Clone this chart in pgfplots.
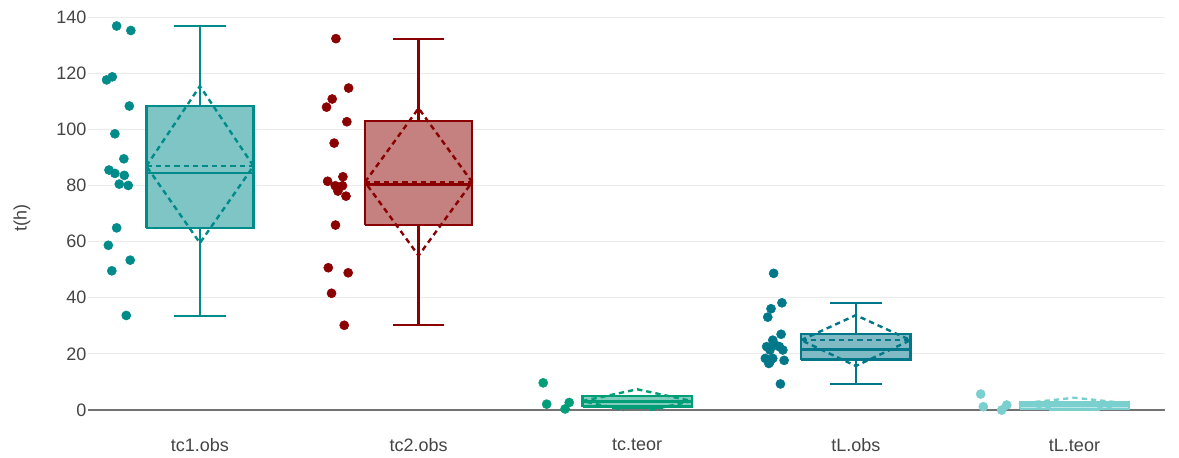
\documentclass[border=0pt]{standalone}
\usepackage{fontspec}
\setmainfont{Liberation Sans}
\usepackage{pgfplots}
\pgfplotsset{compat=1.18}

\definecolor{cA}{RGB}{0,139,139}
\definecolor{cB}{RGB}{139,0,0}
\definecolor{cC}{RGB}{0,158,120}
\definecolor{cD}{RGB}{0,120,138}
\definecolor{cE}{RGB}{122,207,207}
\definecolor{txt}{RGB}{68,68,68}

\pgfplotsset{
  bx/.style={line width=1.9pt, solid, line join=miter, unbounded coords=jump, mark=none},
  dia/.style={line width=1.8pt, dash pattern=on 4pt off 3pt, line join=round, mark=none},
  pts/.style={only marks, mark=*, mark size=3.4pt},
}

\begin{document}
\begin{tikzpicture}
\path[use as bounding box] (-66pt,-35.25pt) rectangle (818.25pt,307.55pt);
\begin{axis}[
  at={(0,0)}, anchor=south west,
  scale only axis, width=807.75pt, height=303.2pt,
  xmin=-0.512, xmax=4.414, ymin=0, ymax=144,
  clip=false,
  axis line style={draw=none},
  major tick length=0pt,
  xtick={0,1,2,3,4},
  xticklabels={tc1.obs,tc2.obs,tc.teor,tL.obs,tL.teor},
  ytick={0,20,40,60,80,100,120,140},
  ymajorgrids,
  grid style={draw=black!8, line width=0.75pt},
  /pgf/number format/assume math mode=true,
  font=\fontsize{13.5}{16}\selectfont,
  tick label style={text=txt},
  xticklabel style={yshift=-18pt},
  yticklabel style={xshift=2.25pt},
  ylabel={t(h)},
  ylabel style={at={(axis description cs:-0.0613,0.475)}, anchor=center, text=txt},
]
% zero line
\addplot[color=black!55, line width=1.1pt] coordinates {(-0.512,0) (4.414,0)};

% tc1.obs
\addplot[cA, bx, fill=cA!50] coordinates {(-0.245,64.8) (0.245,64.8) (0.245,108.3) (-0.245,108.3) (-0.245,64.8)};
\addplot[cA, bx] coordinates {(0,33.5) (0,64.8) (nan,nan) (0,108.3) (0,136.8) (nan,nan)
  (-0.1175,33.5) (0.1175,33.5) (nan,nan) (-0.1175,136.8) (0.1175,136.8) (nan,nan)
  (-0.245,84.4) (0.245,84.4)};
\addplot[cA, dia] coordinates {(-0.245,86.9) (0,115.4) (0.245,86.9) (0,59.5) (-0.245,86.9)};
\addplot[cA, dia] coordinates {(-0.245,86.9) (0.245,86.9)};
\addplot[cA, pts] coordinates {
  (-0.381,136.8) (-0.316,135.2) (-0.401,118.7) (-0.427,117.6) (-0.323,108.3)
  (-0.389,98.4) (-0.348,89.5) (-0.416,85.5) (-0.389,84.3) (-0.346,83.6)
  (-0.369,80.5) (-0.328,80.0) (-0.381,64.9) (-0.419,58.7) (-0.319,53.4)
  (-0.403,49.6) (-0.337,33.7)};

% tc2.obs
\addplot[cB, bx, fill=cB!50] coordinates {(0.755,65.9) (1.245,65.9) (1.245,103.0) (0.755,103.0) (0.755,65.9)};
\addplot[cB, bx] coordinates {(1,30.3) (1,65.9) (nan,nan) (1,103.0) (1,132.2) (nan,nan)
  (0.8825,30.3) (1.1175,30.3) (nan,nan) (0.8825,132.2) (1.1175,132.2) (nan,nan)
  (0.755,80.4) (1.245,80.4)};
\addplot[cB, dia] coordinates {(0.755,81.2) (1,107.5) (1.245,81.2) (1,55.0) (0.755,81.2)};
\addplot[cB, dia] coordinates {(0.755,81.2) (1.245,81.2)};
\addplot[cB, pts] coordinates {
  (0.622,132.3) (0.680,114.7) (0.605,110.8) (0.579,107.9) (0.672,102.7)
  (0.614,95.1) (0.584,81.5) (0.654,83.1) (0.619,79.9) (0.652,79.9)
  (0.631,78.0) (0.668,76.2) (0.620,65.9) (0.587,50.7) (0.678,48.9)
  (0.602,41.6) (0.660,30.2)};

% tc.teor
\addplot[cC, bx, fill=cC!50] coordinates {(1.75,1.2) (2.25,1.2) (2.25,5.0) (1.75,5.0) (1.75,1.2)};
\addplot[cC, bx] coordinates {(2,0.7) (2,1.2) (nan,nan)
  (1.8825,0.7) (2.1175,0.7) (nan,nan) (1.8825,5.0) (2.1175,5.0) (nan,nan)
  (1.75,3.0) (2.25,3.0)};
\addplot[cC, dia] coordinates {(2.0595,0) (2.25,3.2) (2,7.4) (1.75,3.2) (1.9405,0)};
\addplot[cC, dia] coordinates {(1.75,3.2) (2.25,3.2)};
\addplot[cC, pts] coordinates {(1.570,9.7) (1.586,2.1) (1.689,2.7) (1.670,0.4)};

% tL.obs
\addplot[cD, bx, fill=cD!50] coordinates {(2.75,18.0) (3.25,18.0) (3.25,27.1) (2.75,27.1) (2.75,18.0)};
\addplot[cD, bx] coordinates {(3,9.3) (3,18.0) (nan,nan) (3,27.1) (3,38.1) (nan,nan)
  (2.8825,9.3) (3.1175,9.3) (nan,nan) (2.8825,38.1) (3.1175,38.1) (nan,nan)
  (2.75,21.6) (3.25,21.6)};
\addplot[cD, dia] coordinates {(2.75,24.9) (3,33.8) (3.25,24.9) (3,15.7) (2.75,24.9)};
\addplot[cD, dia] coordinates {(2.75,24.9) (3.25,24.9)};
\addplot[cD, pts] coordinates {
  (2.624,48.7) (2.662,38.2) (2.612,36.1) (2.597,33.1) (2.658,27.0)
  (2.620,24.9) (2.592,22.6) (2.630,23.2) (2.650,22.6) (2.666,21.4)
  (2.607,21.4) (2.586,18.4) (2.607,17.2) (2.620,18.4) (2.672,17.7)
  (2.655,9.3) (2.602,16.6)};

% tL.teor
\addplot[cE, bx, fill=cE!50] coordinates {(3.75,0.4) (4.25,0.4) (4.25,2.7) (3.75,2.7) (3.75,0.4)};
\addplot[cE, bx] coordinates {(4,0.0) (4,0.4) (nan,nan)
  (3.8825,0.0) (4.1175,0.0) (nan,nan) (3.8825,2.7) (4.1175,2.7) (nan,nan)
  (3.75,1.6) (4.25,1.6)};
\addplot[cE, dia] coordinates {(4.0625,0) (4.25,2.3) (4,4.4) (3.75,2.3) (3.9375,0)};
\addplot[cE, dia] coordinates {(3.75,2.3) (4.25,2.3)};
\addplot[cE, pts] coordinates {(3.571,5.7) (3.583,1.2) (3.690,1.8) (3.667,0.0)};
\end{axis}
\end{tikzpicture}
\end{document}
